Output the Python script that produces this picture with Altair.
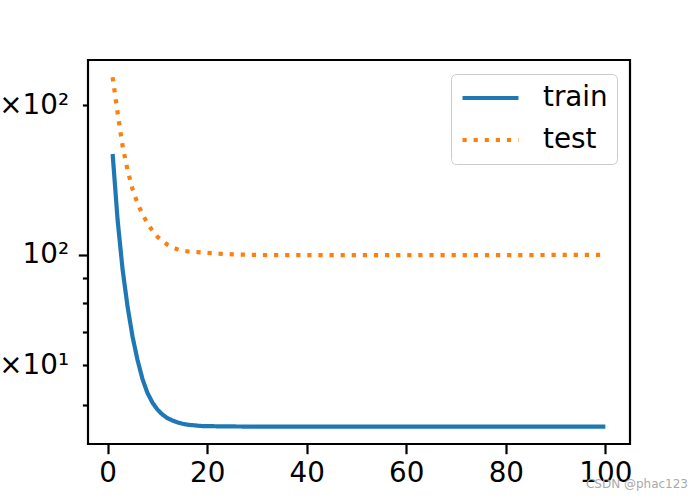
import altair as alt
import pandas as pd

epochs = list(range(1, 31)) + [32, 35, 40, 45, 50, 55, 60, 65, 70, 75, 80, 85, 90, 95, 100]

train = [159.5, 117.5, 93.5, 78.7, 68.5, 61.5, 56.3, 52.8, 50.5, 48.9,
         47.8, 47.0, 46.5, 46.1, 45.8, 45.6, 45.5, 45.4, 45.3, 45.3,
         45.28, 45.26, 45.25, 45.24, 45.23, 45.22, 45.21, 45.2, 45.2, 45.2,
         45.2, 45.2, 45.2, 45.2, 45.2, 45.2, 45.2, 45.2, 45.2, 45.2,
         45.2, 45.2, 45.2, 45.2, 45.2]

test = [227.5, 193.0, 165.5, 148.0, 135.5, 127.0, 120.7, 115.8, 111.8, 108.8,
        106.6, 104.9, 103.6, 102.7, 102.0, 101.7, 101.5, 101.35, 101.15, 100.95,
        100.8, 100.65, 100.5, 100.4, 100.3, 100.2, 100.15, 100.1, 100.05, 100.0,
        99.95, 99.9, 99.9, 99.9, 99.9, 99.9, 99.9, 99.9, 99.9, 99.95,
        99.95, 99.95, 100.0, 100.0, 100.0]

series_names = ["train", "test"]
y_tick_values = [50, 60, 70, 80, 90, 100, 200]
x_tick_values = [0, 20, 40, 60, 80, 100]

df = pd.DataFrame({
    "epoch": epochs * 2,
    "loss": train + test,
    "series": ["train"] * len(epochs) + ["test"] * len(epochs),
})

FONT = "DejaVu Sans"
FS = 27.8

legend_spec = dict(
    title=None, orient="none", legendX=363, legendY=14,
    symbolType="stroke", symbolSize=3136, symbolStrokeWidth=4.2,
    labelFont=FONT, labelFontSize=FS, labelColor="black", labelOffset=22,
    padding=9, strokeColor="#cccccc", fillColor="white", cornerRadius=5,
    clipHeight=30, rowPadding=12,
)

lines = alt.Chart(df).mark_line(strokeWidth=4.2, strokeCap="butt", clip=True).encode(
    x=alt.X("epoch:Q",
            scale=alt.Scale(domain=[-3.95, 104.95], nice=False, zero=False),
            axis=alt.Axis(values=x_tick_values, title=None, grid=False, domain=False,
                          tickSize=9.7, tickWidth=2.2, tickColor="black",
                          labelFont=FONT, labelFontSize=FS, labelColor="black",
                          labelPadding=6, labelFlush=False, labelOverlap=False)),
    y=alt.Y("loss:Q",
            scale=alt.Scale(type="log", domain=[41.7, 246.4], nice=False),
            axis=alt.Axis(values=y_tick_values, title=None, grid=False, domain=False,
                          labelExpr="datum.value == 200 ? '2×10²' : datum.value == 100 ? '10²' : datum.value == 60 ? '6×10¹' : ''",
                          tickSize={"condition": {"test": "datum.value == 100", "value": 9.7}, "value": 5.6},
                          labelPadding={"condition": {"test": "datum.value == 100", "value": 9.7}, "value": 13.8},
                          tickWidth=2.2, tickColor="black",
                          labelFont=FONT, labelFontSize=FS, labelColor="black",
                          labelOverlap=False, labelFlush=False, labelBound=False)),
    color=alt.Color("series:N",
                    scale=alt.Scale(domain=series_names, range=["#1f77b4", "#ff7f0e"]),
                    legend=alt.Legend(**legend_spec)),
    strokeDash=alt.StrokeDash("series:N",
                              scale=alt.Scale(domain=series_names, range=[[1, 0], [4.2, 6.9]]),
                              legend=alt.Legend(**legend_spec)),
)

watermark = alt.Chart(pd.DataFrame({"t": ["CSDN @phac123"]})).mark_text(
    align="right", baseline="middle", fontSize=12, font=FONT, color="#aaaaaa"
).encode(text="t:N", x=alt.value(600), y=alt.value(424))

chart = alt.layer(lines, watermark).properties(
    width=542, height=384,
    autosize=alt.AutoSizeParams(type="none"),
    padding={"left": 88, "top": 60, "right": 70, "bottom": 56},
    background="white",
).configure_view(stroke="black", strokeWidth=2.2)

chart.save("out.html", embed_options={"renderer": "svg", "actions": False})
